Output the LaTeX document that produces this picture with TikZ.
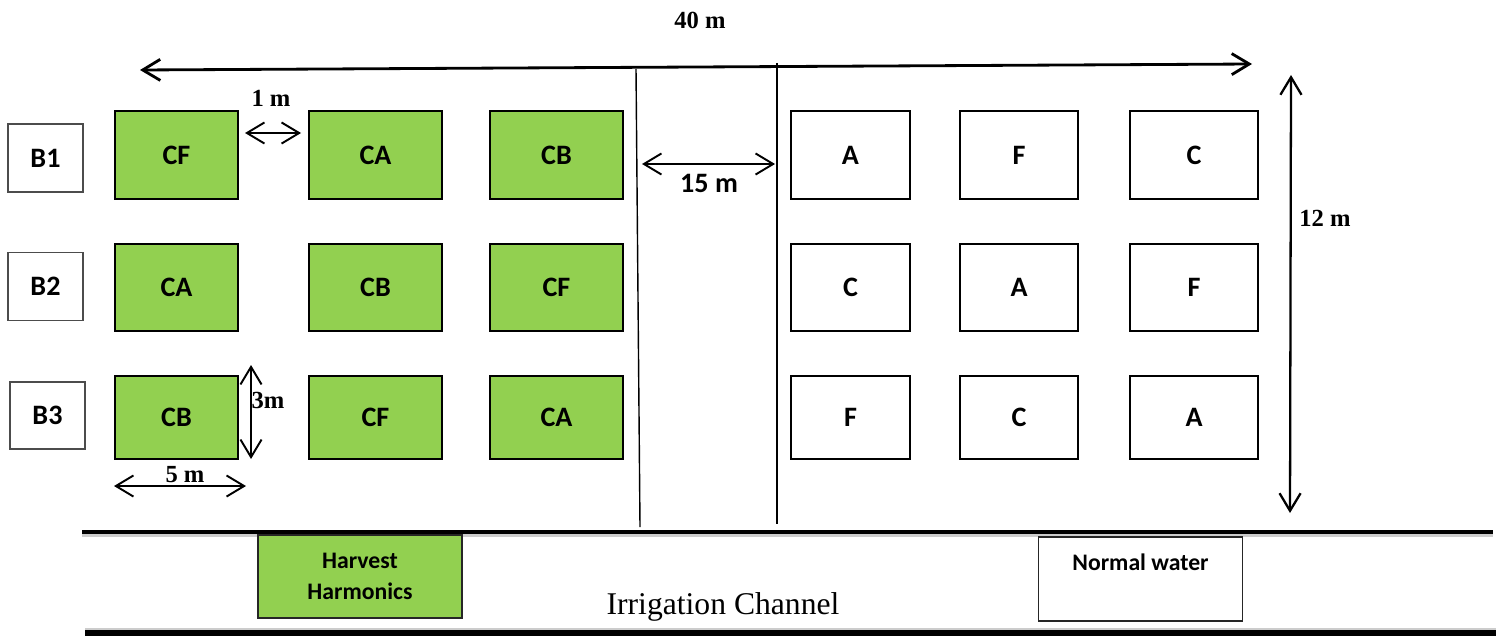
\documentclass[tikz,border=0pt]{standalone}
\usepackage{fontspec}
\setmainfont{Liberation Serif}
\newfontfamily\calibri{Carlito}
\usetikzlibrary{arrows.meta}
\definecolor{plotgreen}{RGB}{146,208,80}

\begin{document}
\begin{tikzpicture}[x=0.02cm, y=-0.02cm, >={Straight Barb[length=10pt,width=12pt]},
  plot/.style={draw, line width=1.6pt, inner sep=0pt, font=\calibri\bfseries\fontsize{16}{18}\selectfont},
  treated/.style={plot, fill=plotgreen},
  blocklab/.style={draw=black!70, line width=0.9pt, minimum width=1.5cm, minimum height=1.36cm, font=\calibri\bfseries\fontsize{16}{18}\selectfont},
  source/.style={draw=black!85, line width=0.7pt, minimum width=4.08cm, minimum height=1.66cm, inner sep=0pt, font=\calibri\bfseries\fontsize{13.5}{18}\selectfont, align=center},
  dim/.style={<->, line width=1.1pt},
  dimlabel/.style={font=\bfseries\fontsize{14}{16}\selectfont},
  channel/.style={line width=2.4pt}]
  \useasboundingbox (0,0) rectangle (1496,635);

  % replicate blocks
  \node[blocklab] (B1) at (45.5,158) {B1};
  \node[blocklab] (B2) at (45.5,286.5) {B2};
  \node[blocklab, minimum height=1.34cm] (B3) at (47.5,415.5) {B3};

  % plots, one row per block
  \foreach \r/\cy/\h/\la/\lb/\lc/\ld/\le/\lf in
    {1/155/88/CF/CA/CB/A/F/C, 2/287.5/87/CA/CB/CF/C/A/F, 3/417.5/83/CB/CF/CA/F/C/A} {
    \node[treated, minimum width=2.46cm, minimum height={\h*0.02cm}] (g\r1) at (176.5,\cy) {\la};
    \node[treated, minimum width=2.66cm, minimum height={\h*0.02cm}] (g\r2) at (375.5,\cy) {\lb};
    \node[treated, minimum width=2.66cm, minimum height={\h*0.02cm}] (g\r3) at (556.5,\cy) {\lc};
    \node[plot, minimum width=2.38cm, minimum height={\h*0.02cm}] (w\r1) at (850.5,\cy) {\ld};
    \node[plot, minimum width=2.36cm, minimum height={\h*0.02cm}] (w\r2) at (1019,\cy) {\le};
    \node[plot, minimum width=2.56cm, minimum height={\h*0.02cm}] (w\r3) at (1194,\cy) {\lf};
  }

  % dividers of the 15 m path
  \coordinate (divla) at (636,69);  \coordinate (divlb) at (640,527);
  \coordinate (divra) at (777,63);  \coordinate (divrb) at (777,524);
  \draw[line width=0.8pt] (divla) -- (divlb);
  \draw[line width=0.8pt] (divra) -- (divrb);

  % dimensions
  \coordinate (totl) at (140,70);   \coordinate (totr) at (1252,64);
  \draw[<->, line width=1.6pt] (totl) -- (totr);
  \node[dimlabel] (tot) at (700,20) {40 m};

  \coordinate (pathl) at (642,164); \coordinate (pathr) at (775,164);
  \draw[dim] (pathl) -- (pathr);
  \node[font=\calibri\bfseries\fontsize{16}{18}\selectfont] (path) at (709,183) {15 m};

  \coordinate (gapl) at (245,133);  \coordinate (gapr) at (301,133);
  \draw[dim] (gapl) -- (gapr);
  \node[dimlabel] (gap) at (271,98) {1 m};

  \coordinate (plotht) at (251,365); \coordinate (plothb) at (251,459);
  \draw[dim] (plotht) -- (plothb);
  \node[dimlabel] (ploth) at (268,400) {3m};

  \coordinate (plotwl) at (114,486); \coordinate (plotwr) at (246,486);
  \draw[dim] (plotwl) -- (plotwr);
  \node[dimlabel] (plotw) at (185,475) {5 m};

  \coordinate (fieldt) at (1291,75); \coordinate (fieldb) at (1290,513);
  \draw[<->, line width=1.3pt] (fieldt) -- (fieldb);
  \node[dimlabel] (field) at (1325,218) {12 m};

  % irrigation channel
  \draw[channel, black!20] (82,535) -- (1493,535);
  \draw[channel] (82,532) -- (1493,532);
  \draw[channel, black!20] (85,630) -- (1496,630);
  \draw[line width=3pt] (85,633) -- (1496,633);
  \node[source, fill=plotgreen] (harvest) at (360,576.5) {Harvest\\Harmonics};
  \node[source, minimum height=1.68cm, text depth=0.66cm] (normal) at (1140.5,579) {Normal water};
  \node[font=\fontsize{18}{20}\selectfont] (chan) at (723,607) {Irrigation Channel};
\end{tikzpicture}
\end{document}
